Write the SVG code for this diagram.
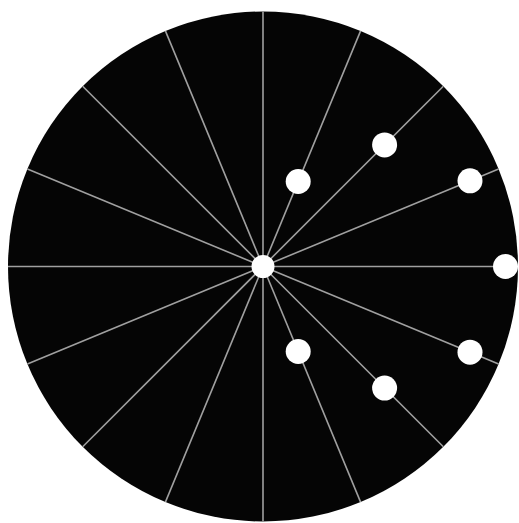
<svg xmlns="http://www.w3.org/2000/svg" width="519" height="523" viewBox="0 0 519 523">
<style>
.spoke{stroke:#a0a0a0;stroke-width:1.6}
.dot{fill:#ffffff}
</style>
<rect width="519" height="523" fill="#ffffff"/>
<g id="disc"><circle cx="263" cy="266.5" r="255" fill="#050505"/></g>
<g id="connectors" transform="translate(263 266.5)">
<line class="spoke" x1="0" y1="0" x2="0" y2="-255"/>
<line class="spoke" x1="0" y1="0" x2="97.6" y2="-235.6"/>
<line class="spoke" x1="0" y1="0" x2="180.3" y2="-180.3"/>
<line class="spoke" x1="0" y1="0" x2="235.6" y2="-97.6"/>
<line class="spoke" x1="0" y1="0" x2="255" y2="0"/>
<line class="spoke" x1="0" y1="0" x2="235.6" y2="97.6"/>
<line class="spoke" x1="0" y1="0" x2="180.3" y2="180.3"/>
<line class="spoke" x1="0" y1="0" x2="97.6" y2="235.6"/>
<line class="spoke" x1="0" y1="0" x2="0" y2="255"/>
<line class="spoke" x1="0" y1="0" x2="-97.6" y2="235.6"/>
<line class="spoke" x1="0" y1="0" x2="-180.3" y2="180.3"/>
<line class="spoke" x1="0" y1="0" x2="-235.6" y2="97.6"/>
<line class="spoke" x1="0" y1="0" x2="-255" y2="0"/>
<line class="spoke" x1="0" y1="0" x2="-235.6" y2="-97.6"/>
<line class="spoke" x1="0" y1="0" x2="-180.3" y2="-180.3"/>
<line class="spoke" x1="0" y1="0" x2="-97.6" y2="-235.6"/>
</g>
<g id="center"><circle class="dot" cx="263" cy="266.5" r="11.5"/></g>
<g id="dot1"><circle class="dot" cx="298.2" cy="181.5" r="12.5"/></g>
<g id="dot2"><circle class="dot" cx="384.6" cy="144.9" r="12.5"/></g>
<g id="dot3"><circle class="dot" cx="470" cy="180.8" r="12.5"/></g>
<g id="dot4"><circle class="dot" cx="505.5" cy="266.5" r="12.5"/></g>
<g id="dot5"><circle class="dot" cx="470" cy="352.2" r="12.5"/></g>
<g id="dot6"><circle class="dot" cx="384.6" cy="388.1" r="12.5"/></g>
<g id="dot7"><circle class="dot" cx="298.2" cy="351.5" r="12.5"/></g>
</svg>
